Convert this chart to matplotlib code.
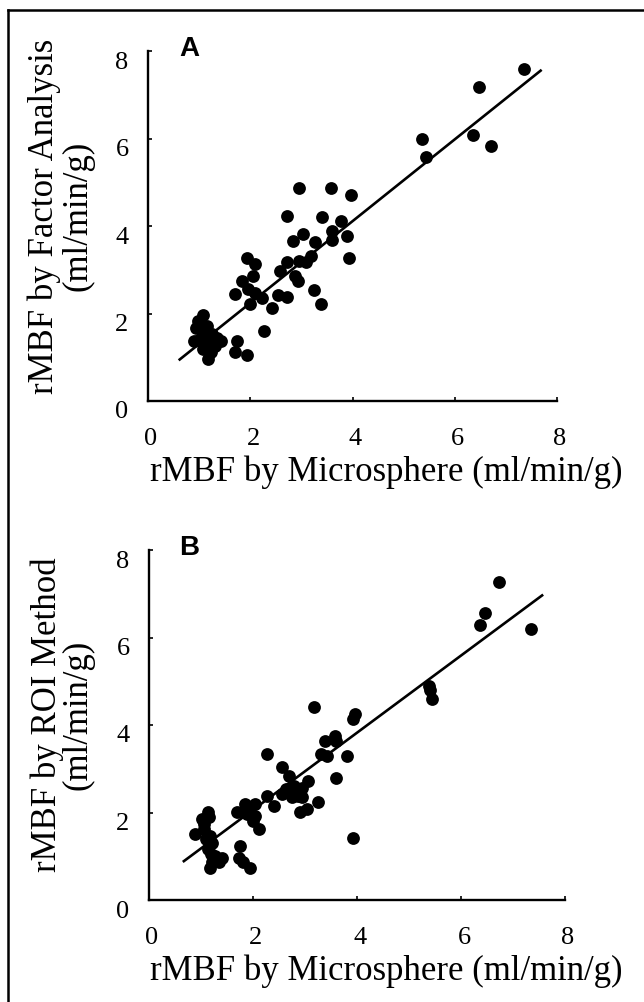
import matplotlib
matplotlib.use("Agg")
import matplotlib.pyplot as plt
import matplotlib.transforms as mtransforms
from matplotlib.lines import Line2D

# ---------------------------------------------------------------------------
# Data
# ---------------------------------------------------------------------------
micro_a = [7.35, 6.47, 6.35, 6.71, 5.36, 5.43,
           2.96, 3.58, 3.98, 2.72, 3.41, 3.77,
           3.03, 2.83, 3.60, 3.60, 3.90, 3.27,
           3.18, 3.09, 2.95, 2.71, 2.59, 3.94,
           2.93, 2.88, 3.25, 3.38, 2.55, 2.71,
           2.43, 2.27, 2.23, 2.09, 1.93, 2.09,
           2.05, 1.83, 1.71, 1.99, 1.95, 1.75,
           1.71, 1.93,
           1.07, 0.98, 0.94, 1.15, 0.89, 1.11, 1.26, 1.42,
           1.31, 1.18, 1.07, 1.23, 1.00, 1.20, 1.35, 1.05]
factor_a = [7.60, 7.18, 6.08, 5.84, 5.98, 5.57,
            4.87, 4.87, 4.72, 4.22, 4.20, 4.12,
            3.82, 3.66, 3.89, 3.69, 3.78, 3.63,
            3.32, 3.17, 3.21, 3.17, 2.98, 3.27,
            2.75, 2.85, 2.53, 2.21, 2.42, 2.37,
            2.12, 1.60, 2.35, 2.48, 3.26, 3.13,
            2.86, 2.75, 2.44, 2.21, 2.56, 1.37,
            1.12, 1.05,
            1.96, 1.83, 1.68, 1.72, 1.37, 1.49, 1.53, 1.37,
            1.26, 0.95, 1.18, 1.11, 1.40, 1.30, 1.45, 1.60]

micro_b = [6.73, 6.46, 6.37, 7.35, 5.38, 5.40, 5.44,
           3.17, 3.97, 3.93, 3.38, 3.58, 3.60, 3.30, 3.42, 3.80, 3.59,
           2.26, 2.55, 2.70, 3.06, 2.95, 2.79, 2.63, 2.87, 2.55, 2.75,
           2.95, 3.25, 3.04, 2.91, 2.26, 2.41, 3.93,
           1.69, 1.85, 2.04, 1.93, 2.04, 2.12, 2.00, 1.89,
           1.75, 1.73, 1.81, 1.94,
           1.14, 1.02, 0.89, 1.06, 1.18, 1.22, 1.14, 1.26,
           1.41, 1.22, 1.18, 1.34, 1.06, 1.10, 1.20, 1.15]
roi_b = [7.26, 6.55, 6.28, 6.20, 4.90, 4.79, 4.60,
         4.41, 4.26, 4.14, 3.64, 3.76, 3.64, 3.34, 3.30, 3.30, 2.80,
         3.34, 3.03, 2.84, 2.73, 2.57, 2.61, 2.54, 2.38, 2.42, 2.35,
         2.35, 2.25, 2.08, 2.02, 2.38, 2.15, 1.41,
         2.02, 2.19, 2.19, 2.04, 1.93, 1.63, 1.81, 1.96,
         1.24, 0.97, 0.86, 0.74,
         2.02, 1.85, 1.50, 1.62, 1.47, 1.31, 1.16, 1.01,
         0.97, 0.86, 0.74, 0.86, 1.73, 1.40, 1.05, 1.90]

# regression line end points
fit_a_x = [0.60, 7.70]
fit_a_y = [0.93, 7.57]
fit_b_x = [0.65, 7.58]
fit_b_y = [0.87, 6.98]

ticks = [0, 2, 4, 6, 8]
xlabel = "rMBF by Microsphere (ml/min/g)"

SERIF = ["Liberation Serif", "DejaVu Serif"]
W, H = 644, 1003


def draw_panel(fig, rect_px, x, y, fx, fy, letter, ylab1, ylab2, ylab_x):
    left, top, right, bottom = rect_px
    ax = fig.add_axes([left / W, 1 - bottom / H, (right - left) / W, (bottom - top) / H])
    ax.scatter(x, y, s=85, color="black", linewidths=0, clip_on=False, zorder=3)
    ax.plot(fx, fy, color="black", lw=1.9, solid_capstyle="butt", clip_on=False)

    ax.set_xlim(0, 8)
    ax.set_ylim(0, 8)
    ax.set_xticks(ticks)
    ax.set_yticks(ticks)
    for side in ("top", "right"):
        ax.spines[side].set_visible(False)
    for side in ("left", "bottom"):
        ax.spines[side].set_linewidth(1.7)
    ax.tick_params(direction="in", length=3, width=1.2, labelsize=19)
    ax.tick_params(axis="x", pad=19)
    ax.tick_params(axis="y", pad=14)
    for lab in ax.get_xticklabels() + ax.get_yticklabels():
        lab.set_fontfamily(SERIF)
    # y tick labels sit a little below their ticks in the original
    shift = mtransforms.ScaledTranslation(0, -8 / 100, fig.dpi_scale_trans)
    for lab in ax.get_yticklabels():
        lab.set_transform(lab.get_transform() + shift)
    shift_x = mtransforms.ScaledTranslation(3 / 100, 0, fig.dpi_scale_trans)
    for lab in ax.get_xticklabels():
        lab.set_transform(lab.get_transform() + shift_x)

    # labels, placed in figure pixels
    fig.text(386 / W, 1 - (bottom + 70) / H, xlabel, family=SERIF, fontsize=25,
             ha="center", va="center")
    ymid = 1 - (top + bottom - 22) / 2 / H
    fig.text(ylab_x[0] / W, ymid, ylab1, family=SERIF, fontsize=25,
             rotation=90, ha="center", va="center")
    fig.text(ylab_x[1] / W, ymid, ylab2, family=SERIF, fontsize=25,
             rotation=90, ha="center", va="center")
    fig.text(189 / W, 1 - (top - 3) / H, letter, family=["Liberation Sans", "DejaVu Sans"],
             fontweight="bold", fontsize=20, ha="center", va="center")
    return ax


fig = plt.figure(figsize=(W / 100, H / 100), dpi=100)

draw_panel(fig, (148, 52, 557, 402), micro_a, factor_a, fit_a_x, fit_a_y,
           "A", "rMBF by Factor Analysis", "(ml/min/g)", (44, 78))
draw_panel(fig, (149, 551, 565, 901), micro_b, roi_b, fit_b_x, fit_b_y,
           "B", "rMBF by ROI Method", "(ml/min/g)", (47, 78))

# frame: only the top and left edges show in the original
fig.add_artist(Line2D([7.5 / W, 7.5 / W], [0, 1 - 11 / H], color="black", lw=1.8,
                      transform=fig.transFigure))
fig.add_artist(Line2D([7.5 / W, 1], [1 - 11 / H, 1 - 11 / H], color="black", lw=1.8,
                      transform=fig.transFigure))

fig.savefig("out.png", dpi=100)
